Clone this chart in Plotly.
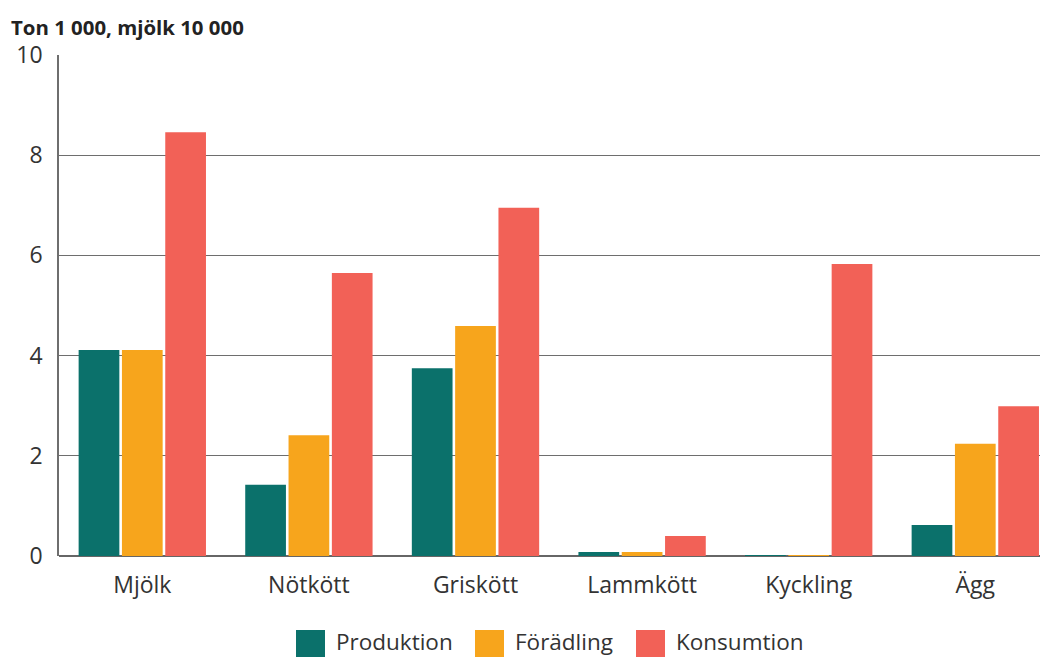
import plotly.graph_objects as go

categories = ["Mjölk", "Nötkött", "Griskött", "Lammkött", "Kyckling", "Ägg"]
produktion = [4.11, 1.42, 3.75, 0.08, 0.01, 0.62]
foradling = [4.11, 2.41, 4.59, 0.08, 0.01, 2.24]
konsumtion = [8.46, 5.65, 6.95, 0.40, 5.83, 2.99]
series_names = ["Produktion", "Förädling", "Konsumtion"]
colors = ["#0b716b", "#f7a51c", "#f26157"]
y_ticks = [0, 2, 4, 6, 8, 10]

# the page body adds an 8px offset; the figure is sized so that it fills the window
OFF = 8
W, H = 1048 - OFF, 657 - OFF
ML, MR, MT, MB = 59 - OFF, 0, 55 - OFF, 101
PW, PH = W - ML - MR, H - MT - MB
CAT_W = 166.6  # px per category in the reference (plot is cropped on the right)

def px_x(x):  # screen x -> paper
    return (x - OFF - ML) / PW

def px_y(y):  # screen y -> paper
    return (H - MB - (y - OFF)) / PH

fig = go.Figure()
for name, vals, col in zip(series_names, [produktion, foradling, konsumtion], colors):
    fig.add_trace(go.Bar(x=categories, y=vals, name=name, marker=dict(color=col, line=dict(width=0))))

legend_x = [296, 475, 636]
shapes = []
annotations = [dict(text="<b>Ton 1 000, mjölk 10 000</b>", x=px_x(9), xref="paper", xanchor="left",
                    y=px_y(27), yref="paper", yanchor="middle", showarrow=False,
                    font=dict(size=20.4, color="#222222"))]
for lx, name, col in zip(legend_x, series_names, colors):
    shapes.append(dict(type="rect", xref="paper", yref="paper",
                       x0=px_x(lx), x1=px_x(lx + 29), y0=px_y(660), y1=px_y(630),
                       fillcolor=col, line=dict(width=0)))
    annotations.append(dict(text=name, x=px_x(lx + 38), xref="paper", xanchor="left",
                            y=px_y(641), yref="paper", yanchor="middle", showarrow=False,
                            font=dict(size=22.5, color="#333333")))

fig.update_layout(
    width=W, height=H,
    barmode="group", bargap=0.22, bargroupgap=0.06,
    plot_bgcolor="white", paper_bgcolor="white",
    margin=dict(l=ML, r=MR, t=MT, b=MB, autoexpand=False),
    font=dict(family="Open Sans", size=23, color="#333333"),
    showlegend=False,
    shapes=shapes,
    annotations=annotations,
)
fig.update_xaxes(range=[-0.5, -0.5 + PW / CAT_W], showline=False, ticks="",
                 tickfont=dict(size=23, color="#333333"),
                 ticklabelstandoff=13, automargin=False)
fig.update_yaxes(range=[0, 10], tickvals=y_ticks, showgrid=True, gridcolor="#6e6e6e", gridwidth=1,
                 showline=True, linecolor="#6e6e6e", linewidth=1.5, zeroline=True, zerolinecolor="#666666",
                 zerolinewidth=2, ticks="", tickfont=dict(size=23, color="#333333"),
                 ticklabelstandoff=10, automargin=False)

fig.write_html("out.html")
